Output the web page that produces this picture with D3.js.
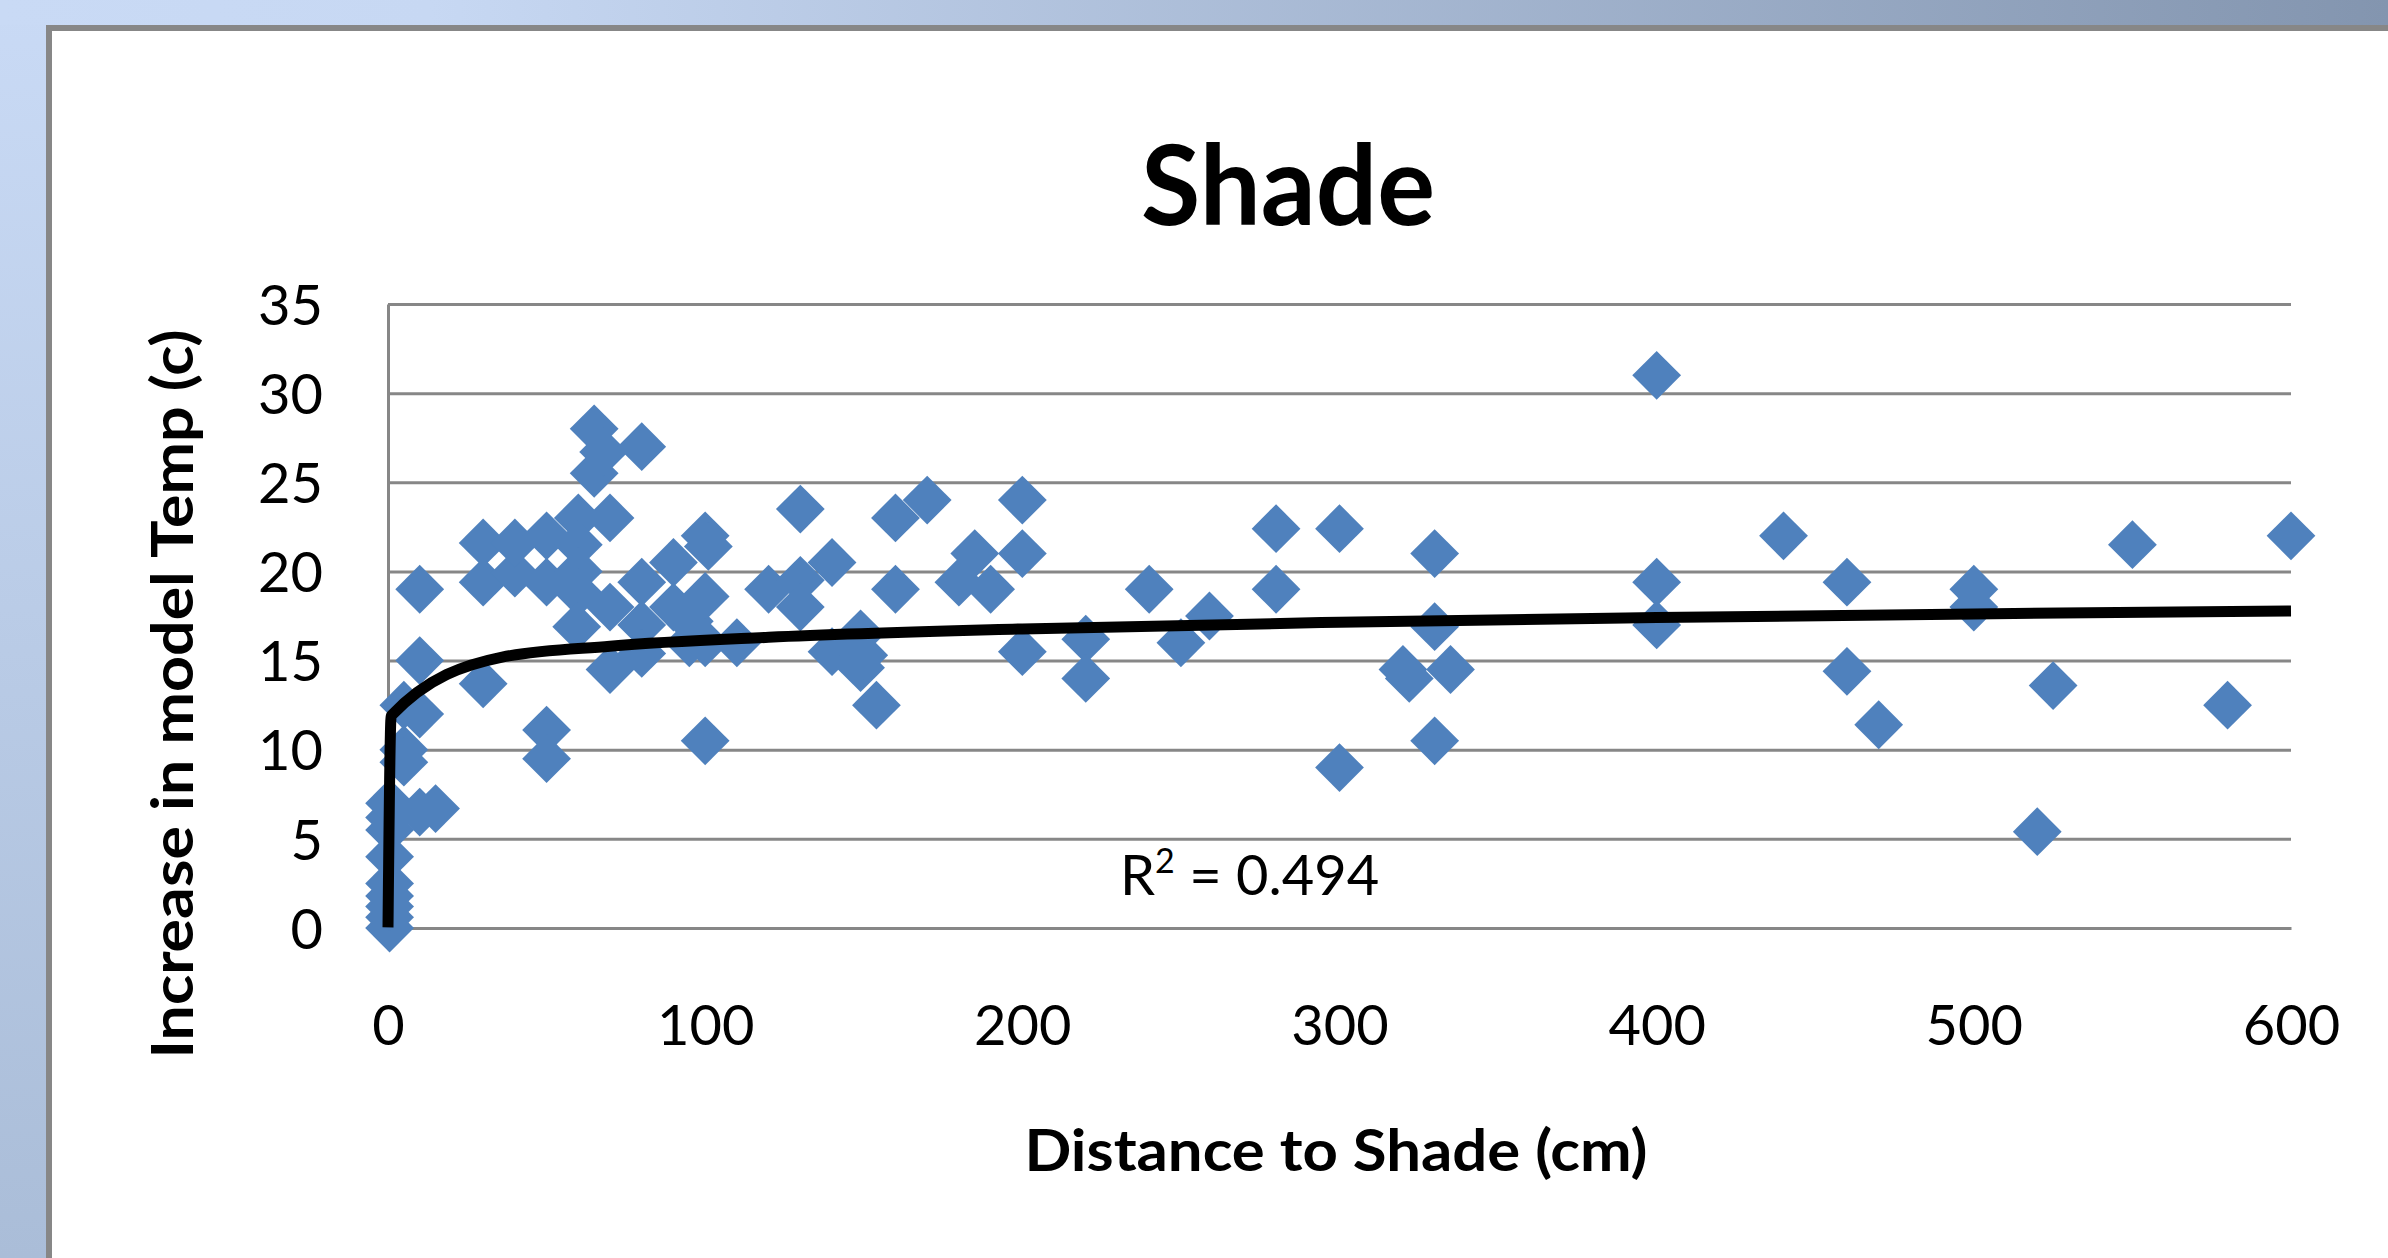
<!DOCTYPE html>
<html><head><meta charset="utf-8">
<script src="https://cdn.jsdelivr.net/npm/d3@7"></script>
<style>html,body{margin:0;padding:0;background:#fff;overflow:hidden}</style>
</head><body><svg id="c" width="2388" height="1258"></svg>
<script>
// ---- data ----
const distance = [
  0.5,0.5,0.5,0.5,0.5,0.5,0.5,0.5,0.5,
  5,5,5, 10,10,15,10,10,
  30,30,30, 40,40, 50,50,50,50,
  60,60,60,60,59.5, 65,65,68,80, 70,70,70,
  80,80,80, 90,90,95,95,
  100,101,100,100,100, 110, 120,
  130,130,130, 140,140, 149,149,150,154,
  160,160,170, 180,185,190, 200,200,200,
  220,220, 240,250,259, 280,280, 300,300,
  320,322,330,330,330,335,
  400,400,400, 440,460,460,470,
  500,500,520,525, 550,580,600
];
const tempIncrease = [
  0,0.6,1.2,1.8,2.5,4,5.5,6.2,7,
  12.5,10,9.3, 12,6.5,6.7,15,19,
  13.7,19.4,21.6, 19.9,21.6, 22,19.4,11.1,9.5,
  23,21.5,20,18.8,16.9, 28,25.5,26.7,27, 23,18,14.5,
  19.4,17,15.4, 20.5,18,16,17.2,
  22,21.4,18.6,16,10.5, 16, 19,
  23.5,19.5,18, 20.5,15.5, 16.5,14.6,15.3,12.5,
  23,19,24, 19.4,21,19, 24,21,15.5,
  16.2,14, 19,16,17.5, 22.4,19, 22.4,9,
  14.5,14,21,16.9,10.5,14.5,
  31,19.4,17, 22,19.4,14.4,11.4,
  19,18,5.4,13.6, 21.5,12.5,22
];
const xTicks = [0,100,200,300,400,500,600];
const yTicks = [0,5,10,15,20,25,30,35];
// logarithmic trendline y = a*ln(x) + b (Excel fit), R² shown on chart
const trendA = 0.92, trendB = 11.9;
const trendSampleX = [0.0000025,1,36,70,120,200,300,400,500,600];
const rSquared = "0.494";
const chartTitle = "Shade";
const xTitle = "Distance to Shade (cm)";
const yTitle = "Increase in model Temp (c)";

// ---- drawing ----
(function(){
const W = 2388, H = 1258;
const svg = d3.select("#c");
const FONT = "Lato, 'Open Sans', sans-serif";
const defs = svg.append("defs");
const gTop = defs.append("linearGradient").attr("id","gTop").attr("x1",0).attr("x2",1).attr("y1",0).attr("y2",0);
gTop.append("stop").attr("offset",0).attr("stop-color","#c9daf5");
gTop.append("stop").attr("offset",0.18).attr("stop-color","#c7d8f3");
gTop.append("stop").attr("offset",1).attr("stop-color","#8395af");
const gLeft = defs.append("linearGradient").attr("id","gLeft").attr("x1",0).attr("x2",0).attr("y1",0).attr("y2",1);
gLeft.append("stop").attr("offset",0).attr("stop-color","#c9daf5");
gLeft.append("stop").attr("offset",1).attr("stop-color","#aabdd8");

svg.append("rect").attr("x",0).attr("y",0).attr("width",W).attr("height",H).attr("fill","url(#gLeft)");
svg.append("rect").attr("x",0).attr("y",0).attr("width",W).attr("height",25).attr("fill","url(#gTop)");
svg.append("rect").attr("x",46).attr("y",25).attr("width",W-46).attr("height",H-25).attr("fill","#878787");
svg.append("rect").attr("x",52).attr("y",31).attr("width",W-52).attr("height",H-31).attr("fill","#ffffff");

const pLeft = 388, pRight = 2291, pTop = 304, pBottom = 928;
const x = d3.scaleLinear().domain([0,600]).range([pLeft,pRight]);
const y = d3.scaleLinear().domain([0,35]).range([pBottom,pTop]);

// gridlines
const grid = svg.append("g").attr("transform",`translate(${pLeft},0)`)
  .call(d3.axisLeft(y).tickValues(yTicks).tickSize(-(pRight-pLeft)).tickFormat(""));
grid.select(".domain").remove();
grid.selectAll("line").attr("stroke","#878787").attr("stroke-width",3);

// y axis line + labels
const yAx = svg.append("g").attr("transform",`translate(${pLeft},0)`)
  .call(d3.axisLeft(y).tickValues(yTicks).tickSize(0).tickSizeOuter(0).tickPadding(65));
yAx.select(".domain").attr("stroke","#878787").attr("stroke-width",3);
yAx.selectAll("text").attr("font-family",FONT).attr("font-size",56).attr("fill","#000").attr("dy","0.36em");

// x axis labels
const xAx = svg.append("g").attr("transform",`translate(0,${pBottom})`)
  .call(d3.axisBottom(x).tickValues(xTicks).tickSize(0).tickSizeOuter(0).tickPadding(77));
xAx.select(".domain").attr("stroke","#878787").attr("stroke-width",3);
xAx.selectAll("text").attr("font-family",FONT).attr("font-size",56).attr("fill","#000").attr("dy","0.71em");

// points
const pts = distance.map((d,i)=>({d, t: tempIncrease[i]}));
const diamond = d3.symbol().type(d3.symbolSquare).size(1190);
svg.append("g").selectAll("path").data(pts).join("path")
  .attr("d", diamond)
  .attr("transform", p => `translate(${x(p.d)},${y(p.t)}) rotate(45)`)
  .attr("fill","#4f81bd");

// trendline
const trend = trendSampleX.map(v => [v, Math.max(0, trendA*Math.log(v) + trendB)]);
svg.append("path").datum(trend)
  .attr("d", d3.line().x(p=>x(p[0])).y(p=>y(p[1])).curve(d3.curveMonotoneX))
  .attr("fill","none").attr("stroke","#000").attr("stroke-width",11).attr("stroke-linejoin","round");

// R² label
const rt = svg.append("text").attr("x",1120).attr("y",895).attr("font-family",FONT).attr("font-size",56).attr("fill","#000");
rt.append("tspan").text("R");
rt.append("tspan").attr("font-size",34).attr("dy",-22).text("2");
rt.append("tspan").attr("dy",22).text(" = " + rSquared);

// titles
svg.append("text").attr("x",1288).attr("y",225).attr("text-anchor","middle")
  .attr("font-family",FONT).attr("font-weight","bold").attr("font-size",112)
  .attr("textLength",294).attr("lengthAdjust","spacingAndGlyphs").text(chartTitle);
svg.append("text").attr("x",1336).attr("y",1171).attr("text-anchor","middle")
  .attr("font-family",FONT).attr("font-weight","bold").attr("font-size",58)
  .attr("textLength",623).attr("lengthAdjust","spacingAndGlyphs").text(xTitle);
svg.append("text").attr("transform","translate(193,694) rotate(-90)").attr("text-anchor","middle")
  .attr("font-family",FONT).attr("font-weight","bold").attr("font-size",58)
  .attr("textLength",729).attr("lengthAdjust","spacingAndGlyphs").text(yTitle);
})();
</script>
</body></html>
